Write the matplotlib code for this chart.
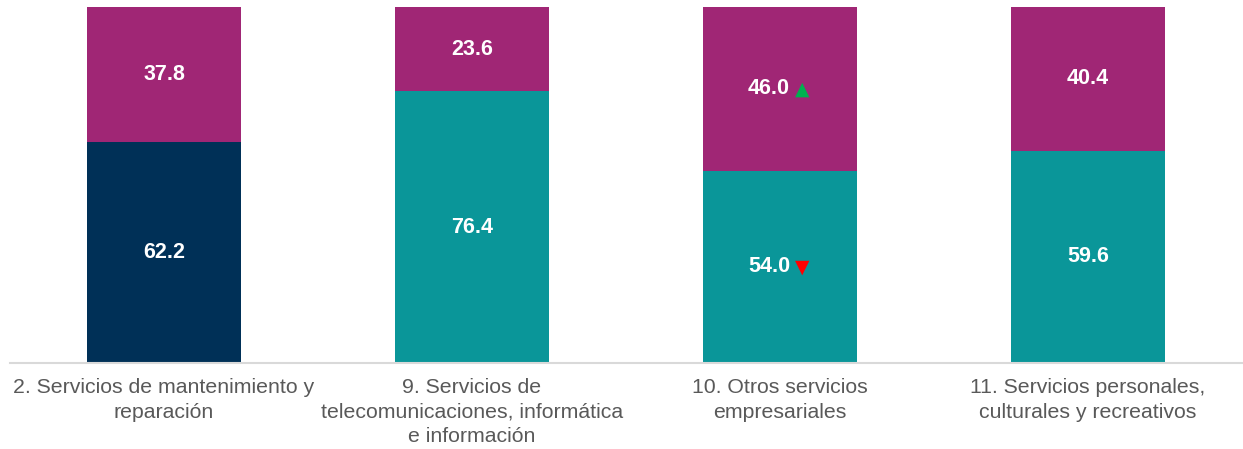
import numpy as np
import matplotlib.pyplot as plt

plt.rcParams['font.family'] = ['Liberation Sans', 'DejaVu Sans']

# data
categories = ["2. Servicios de mantenimiento y\nreparación",
              "9. Servicios de\ntelecomunicaciones, informática\ne información",
              "10. Otros servicios\nempresariales",
              "11. Servicios personales,\nculturales y recreativos"]
bottom_vals = [62.2, 76.4, 54.0, 59.6]
top_vals = [37.8, 23.6, 46.0, 40.4]
# arrow markers: 0 none, 1 up, -1 down
bottom_arrows = [0, 0, -1, 0]
top_arrows = [0, 0, 1, 0]

bottom_colors = ["#003057", "#0a9699", "#0a9699", "#0a9699"]
top_color = "#a02675"

fig = plt.figure(figsize=(12.43, 4.49), dpi=100)
ax = fig.add_axes([10/1243, 1-363/449, 1232/1243, 356/449])

x = np.arange(len(categories))
width = 0.5
ax.bar(x, bottom_vals, width, color=bottom_colors)
ax.bar(x, top_vals, width, bottom=bottom_vals, color=top_color)

def put_label(xi, y, val, arrow):
    if arrow == 0:
        ax.text(xi, y, f"{val:.1f}", ha='center', va='center', color='white',
                fontsize=15.5, fontweight='bold')
    else:
        ax.annotate(f"{val:.1f}", (xi, y), xytext=(-11, 0), textcoords='offset pixels',
                    ha='center', va='center', color='white', fontsize=15.5, fontweight='bold')
        sym = "▲" if arrow > 0 else "▼"
        col = "#00b050" if arrow > 0 else "#ff0000"
        ax.annotate(sym, (xi, y), xytext=(22, 0), textcoords='offset pixels',
                    ha='center', va='center', color=col, fontsize=13.5,
                    family='DejaVu Sans')

for i in range(len(categories)):
    put_label(x[i], bottom_vals[i] / 2, bottom_vals[i], bottom_arrows[i])
    put_label(x[i], bottom_vals[i] + top_vals[i] / 2, top_vals[i], top_arrows[i])

ax.set_xlim(-0.5, 3.5)
ax.set_ylim(0, 100)
ax.set_xticks(x, categories, fontsize=15.3, color='#595959', linespacing=1.35)
ax.tick_params(axis='x', length=0, pad=11)
ax.set_yticks([])
for s in ['top', 'left', 'right']:
    ax.spines[s].set_visible(False)
ax.spines['bottom'].set_color('#d9d9d9')
ax.spines['bottom'].set_linewidth(1.5)

fig.savefig("out.png", dpi=100)
